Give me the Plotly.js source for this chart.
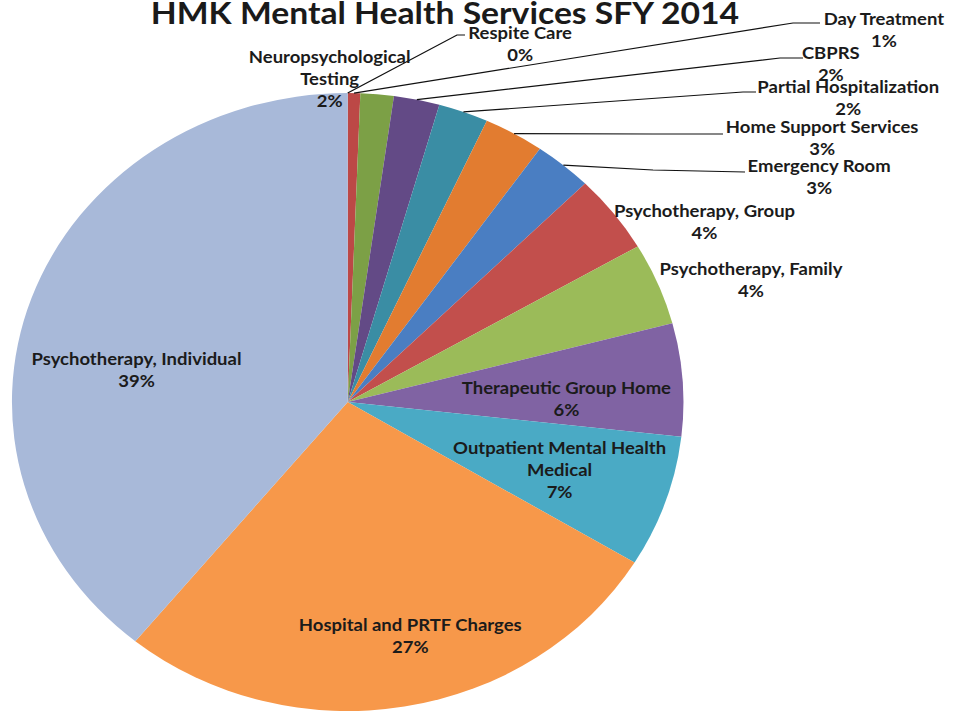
<!DOCTYPE html>
<html><head><meta charset="utf-8">
<script src="https://cdn.plot.ly/plotly-3.0.1.min.js"></script>
<style>
html,body{margin:0;padding:0;background:#fff;overflow:hidden;}
#chart{width:877px;height:715px;transform:scaleX(1.0866);transform-origin:0 0;}
</style>
</head><body><div id="chart"></div>
<script>
// ---- data (clockwise from 12 o'clock) ----
const categories = ["Respite Care", "Day Treatment", "Neuropsychological Testing", "CBPRS",
  "Partial Hospitalization", "Home Support Services", "Emergency Room", "Psychotherapy, Group",
  "Psychotherapy, Family", "Therapeutic Group Home", "Outpatient Mental Health Medical",
  "Hospital and PRTF Charges", "Psychotherapy, Individual"];
const values = [0, 0.6, 1.6, 2.2, 2.4, 2.9, 2.8, 4.1, 4.3, 5.9, 6.9, 27.2, 39.1];
const colors = ["#4F81BD", "#BC4846", "#7CA046", "#634A86", "#3A8DA4", "#E27C30", "#4A7EC2",
  "#C24F4C", "#9BBB59", "#8063A3", "#4AAAC5", "#F7984A", "#A8B9D9"];
const chartTitle = "HMK Mental Health Services SFY 2014";

// ---- layout geometry ----
const W = 877, H = 715, SX = 1.0866;
const CX = 320, CY = 402, R = 309;
const wrapText = {"Neuropsychological Testing": "Neuropsychological<br>Testing",
  "Outpatient Mental Health Medical": "Outpatient Mental Health<br>Medical"};
// label block centres (screen px of the final picture)
const labelPos = {
  "Respite Care": [520, 43], "Day Treatment": [884, 29], "Neuropsychological Testing": [330, 78],
  "CBPRS": [831, 64], "Partial Hospitalization": [848, 97], "Home Support Services": [822, 137],
  "Emergency Room": [819, 176], "Psychotherapy, Group": [705, 221], "Psychotherapy, Family": [751, 279],
  "Therapeutic Group Home": [567, 398], "Outpatient Mental Health Medical": [560, 470],
  "Hospital and PRTF Charges": [410, 635], "Psychotherapy, Individual": [136, 369]
};
// leader line elbow + end points (screen px)
const leaders = {
  "Respite Care": [[457, 35], [465, 35]], "Day Treatment": [[793, 23], [820, 23]],
  "CBPRS": [[780, 58], [803, 58]], "Partial Hospitalization": [[743, 92], [756, 92]],
  "Home Support Services": [[653, 134], [723, 134]], "Emergency Room": [[653, 170], [745, 172]]
};

const total = values.reduce((a, b) => a + b, 0);
const px = x => (x / SX) / W;      // screen x -> paper
const py = y => 1 - y / H;         // screen y -> paper

const annotations = [];
const shapes = [];
let cum = 0;
categories.forEach((c, i) => {
  const pct = Math.round(values[i] / total * 100) + "%";
  const txt = (wrapText[c] || c) + "<br>" + pct;
  const p = labelPos[c];
  annotations.push({x: px(p[0]), y: py(p[1]), xref: "paper", yref: "paper", text: txt,
    showarrow: false, xanchor: "center", yanchor: "middle",
    font: {family: "Lato, 'Open Sans', sans-serif", size: 17, color: "#1b1b1b", weight: "bold"}});
  const mid = (cum + values[i] / 2) / total * 2 * Math.PI;
  cum += values[i];
  if (leaders[c]) {
    const ax = (CX + R * Math.sin(mid)) / W, ay = 1 - (CY - R * Math.cos(mid)) / H;
    const e = leaders[c];
    shapes.push({type: "path", xref: "paper", yref: "paper",
      path: `M ${ax} ${ay} L ${px(e[0][0])} ${py(e[0][1])} L ${px(e[1][0])} ${py(e[1][1])}`,
      line: {color: "#111", width: 1.2}});
  }
});

const trace = {
  type: "pie", labels: categories, values: values, sort: false, direction: "clockwise",
  rotation: 0, textinfo: "none", hoverinfo: "label+percent",
  marker: {colors: colors, line: {width: 0}},
  domain: {x: [(CX - R) / W, (CX + R) / W], y: [(H - CY - R) / H, (H - CY + R) / H]}
};

const layout = {
  width: W, height: H, margin: {l: 0, r: 0, t: 0, b: 0},
  paper_bgcolor: "#fff", showlegend: false,
  title: {text: "<b>" + chartTitle + "</b>", x: (445 / SX) / W, xanchor: "center",
    y: 1 - 13 / H, yanchor: "middle", yref: "container",
    font: {family: "Lato, 'Open Sans', sans-serif", size: 31, color: "#1a1a1a"}},
  annotations: annotations, shapes: shapes
};
Plotly.newPlot("chart", [trace], layout, {displayModeBar: false, staticPlot: true});
</script>
</body></html>
